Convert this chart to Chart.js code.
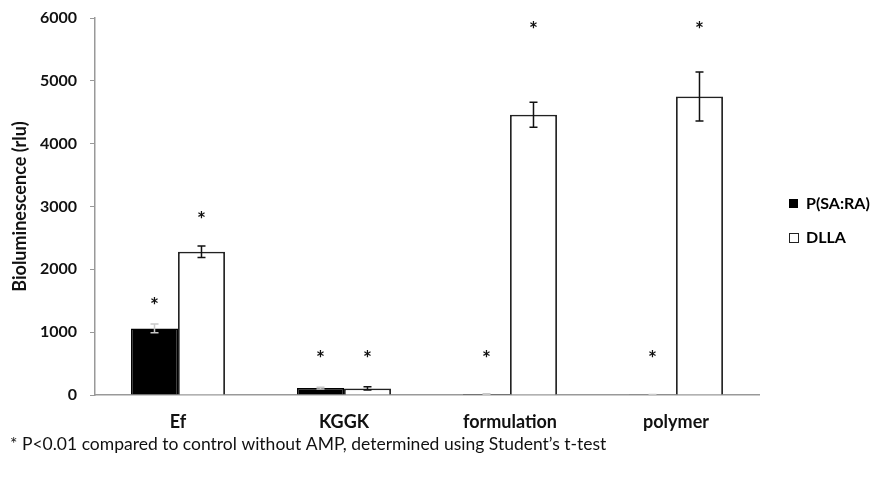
<!DOCTYPE html>
<html>
<head>
<meta charset="utf-8">
<script src="https://cdn.jsdelivr.net/npm/chart.js@4.4.1/dist/chart.umd.min.js"></script>
<style>
  body { margin: 0; background: #fff; }
</style>
</head>
<body>
<canvas id="myChart" width="874" height="484"></canvas>
<script>
// dados
var categorias = ['Ef', 'KGGK', 'formulation', 'polymer'];
var psaraValores = [1060, 110, 15, 4];
var psaraErros = [70, 15, 6, 3];
var dllaValores = [2280, 105, 4460, 4750];
var dllaErros = [90, 25, 200, 390];
// posição dos asteriscos (centro, em rlu)
var psaraAsteriscos = [1500, 650, 650, 650];
var dllaAsteriscos = [2860, 650, 5890, 5890];
var yTicks = [0, 1000, 2000, 3000, 4000, 5000, 6000];
var nota = '* P<0.01 compared to control without AMP, determined using Student\u2019s t-test';

var fonte = 'Lato, "Open Sans", sans-serif';

// barras de erro, asteriscos, legenda e nota
const extras = {
    id: 'extras',
    afterDatasetsDraw(chart) {
        const ctx = chart.ctx;
        const y = chart.scales.y;
        const series = [
            { erros: psaraErros, valores: psaraValores, stars: psaraAsteriscos, cor: '#c8c8c8' },
            { erros: dllaErros, valores: dllaValores, stars: dllaAsteriscos, cor: '#111' }
        ];
        ctx.save();
        ctx.font = 'bold 21px ' + fonte;
        const m = ctx.measureText('*');
        const desloc = (m.actualBoundingBoxAscent - m.actualBoundingBoxDescent) / 2;
        series.forEach((s, i) => {
            const meta = chart.getDatasetMeta(i);
            meta.data.forEach((bar, j) => {
                const top = y.getPixelForValue(s.valores[j] + s.erros[j]);
                const bot = y.getPixelForValue(s.valores[j] - s.erros[j]);
                ctx.strokeStyle = s.cor;
                ctx.lineWidth = 1.5;
                ctx.beginPath();
                ctx.moveTo(bar.x, top); ctx.lineTo(bar.x, bot);
                ctx.moveTo(bar.x - 4, top); ctx.lineTo(bar.x + 4, top);
                ctx.moveTo(bar.x - 4, bot); ctx.lineTo(bar.x + 4, bot);
                ctx.stroke();

                // asterisco
                ctx.fillStyle = '#111';
                ctx.textAlign = 'center';
                ctx.textBaseline = 'alphabetic';
                ctx.fillText('*', bar.x, y.getPixelForValue(s.stars[j]) + desloc);
            });
        });

        // legenda
        ctx.font = 'bold 16px ' + fonte;
        ctx.textAlign = 'left';
        ctx.textBaseline = 'middle';
        ctx.fillStyle = '#000';
        ctx.fillRect(789, 199, 9, 9);
        ctx.fillText('P(SA:RA)', 806, 204);
        ctx.fillStyle = '#fff';
        ctx.fillRect(789.5, 233.5, 9, 9);
        ctx.strokeStyle = '#222';
        ctx.lineWidth = 1;
        ctx.strokeRect(789.5, 233.5, 9, 9);
        ctx.fillStyle = '#000';
        ctx.fillText('DLLA', 806, 238);

        // nota de rodapé
        ctx.font = '17.5px ' + fonte;
        ctx.fillStyle = '#111';
        ctx.fillText(nota, 10, 444);
        ctx.restore();
    }
};

const ctx = document.getElementById('myChart').getContext('2d');
const myChart = new Chart(ctx, {
    type: 'bar',
    data: {
        labels: categorias,
        datasets: [{
            label: 'P(SA:RA)',
            data: psaraValores,
            backgroundColor: '#000',
            borderColor: '#000',
            borderWidth: 1.5
        }, {
            label: 'DLLA',
            data: dllaValores,
            backgroundColor: '#fff',
            borderColor: '#222',
            borderWidth: 1.8
        }]
    },
    options: {
        responsive: false,
        animation: false,
        layout: { padding: { left: 0, top: 18, right: 115, bottom: 0 } },
        datasets: {
            bar: { barPercentage: 1, categoryPercentage: 0.566 }
        },
        scales: {
            x: {
                grid: { display: false },
                border: { color: '#999', width: 1.5 },
                ticks: {
                    color: '#111',
                    padding: 8,
                    font: { family: fonte, size: 18, weight: 'bold' }
                },
                afterFit: function (s) { s.height = 89; }
            },
            y: {
                min: 0,
                max: 6000,
                afterBuildTicks: function (s) { s.ticks = yTicks.map(v => ({ value: v })); },
                grid: { drawOnChartArea: false, drawTicks: true, tickLength: 5, color: '#999' },
                border: { color: '#999', width: 1.5 },
                ticks: {
                    color: '#111',
                    padding: 13,
                    callback: function (v) { return String(v); },
                    font: { family: fonte, size: 16, weight: 'bold' }
                },
                title: {
                    display: true,
                    text: 'Bioluminescence (rlu)',
                    color: '#111',
                    padding: { top: 9, bottom: 0 },
                    font: { family: fonte, size: 18, weight: 'bold' }
                },
                // largura fixa e sem folga extra no topo
                afterFit: function (s) { s.width = 95; s.paddingTop = 0; }
            }
        },
        plugins: {
            legend: { display: false },
            tooltip: { enabled: false }
        }
    },
    plugins: [extras]
});
</script>
</body>
</html>
